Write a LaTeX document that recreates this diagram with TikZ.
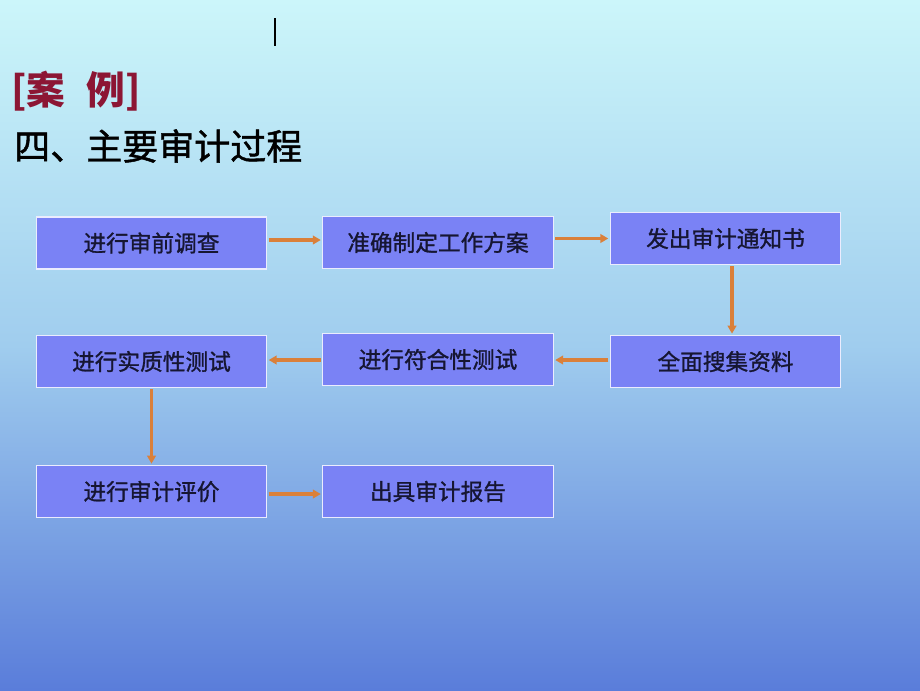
\documentclass[tikz,border=0pt]{standalone}
\usepackage{fontspec}
\setmainfont{Noto Sans CJK SC}
\newfontfamily\cjk{Noto Sans CJK SC}
\newfontfamily\cjkm[FakeBold=1.2]{Noto Sans CJK SC}
\usetikzlibrary{arrows.meta,calc}
\definecolor{bgtop}{RGB}{204,246,250}
\definecolor{bgmid}{RGB}{160,205,238}
\definecolor{bgbot}{RGB}{90,125,218}
\definecolor{boxfill}{RGB}{122,130,245}
\definecolor{arrcol}{RGB}{218,128,58}
\definecolor{titlered}{RGB}{140,22,52}
\definecolor{boxtext}{RGB}{22,22,50}
\tikzset{
  stepbox/.style={draw=white!85!boxfill, line width=0.8pt, fill=boxfill, minimum width=173pt, minimum height=39pt, inner sep=0pt, font=\cjkm\fontsize{17pt}{19pt}\selectfont, text=boxtext},
  arr/.style={draw=arrcol, line width=2.4pt, -{Triangle[length=6pt,width=6.5pt]}, shorten >=1pt, shorten <=1pt},
}
\begin{document}
\begin{tikzpicture}[x=0.75pt,y=-0.75pt]
\useasboundingbox (0,0) rectangle (920,690);
\shade[top color=bgtop, bottom color=bgbot, middle color=bgmid] (0,0) rectangle (920,690);
\draw[black, line width=0.8pt] (275,18) -- (275,46);
\node[anchor=west, text=titlered, font=\cjk\bfseries\fontsize{29pt}{31pt}\selectfont, inner sep=0pt] (t1) at (11,91) {[案\hspace{16pt}例]};
\node[anchor=west, text=black, font=\cjkm\fontsize{27pt}{29pt}\selectfont, inner sep=0pt] (t2) at (14,146) {四、主要审计过程};
\node[stepbox] (b1) at (151.5,243) {进行审前调查};
\node[stepbox] (b2) at (438,242.5) {准确制定工作方案};
\node[stepbox] (b3) at (725.5,238.5) {发出审计通知书};
\node[stepbox] (b4) at (725.5,361.5) {全面搜集资料};
\node[stepbox] (b5) at (438,359.5) {进行符合性测试};
\node[stepbox] (b6) at (151.5,361.5) {进行实质性测试};
\node[stepbox] (b7) at (151.5,491.5) {进行审计评价};
\node[stepbox] (b8) at (438,491.5) {出具审计报告};
\draw[arr] ($(b1.east)+(0,-3)$) -- ($(b2.west)+(0,-2.5)$);
\draw[arr] (b2.east |- b3.west) -- (b3.west);
\draw[arr] ($(b3.south)+(6.5,0)$) -- ($(b4.north)+(6.5,0)$);
\draw[arr] ($(b4.west)+(0,-1.5)$) -- ($(b5.east)+(0,0.5)$);
\draw[arr] ($(b5.west)+(0,0.5)$) -- ($(b6.east)+(0,-1.5)$);
\draw[arr] (b6.south) -- (b7.north);
\draw[arr] ($(b7.east)+(0,2.5)$) -- ($(b8.west)+(0,2.5)$);
\end{tikzpicture}
\end{document}
